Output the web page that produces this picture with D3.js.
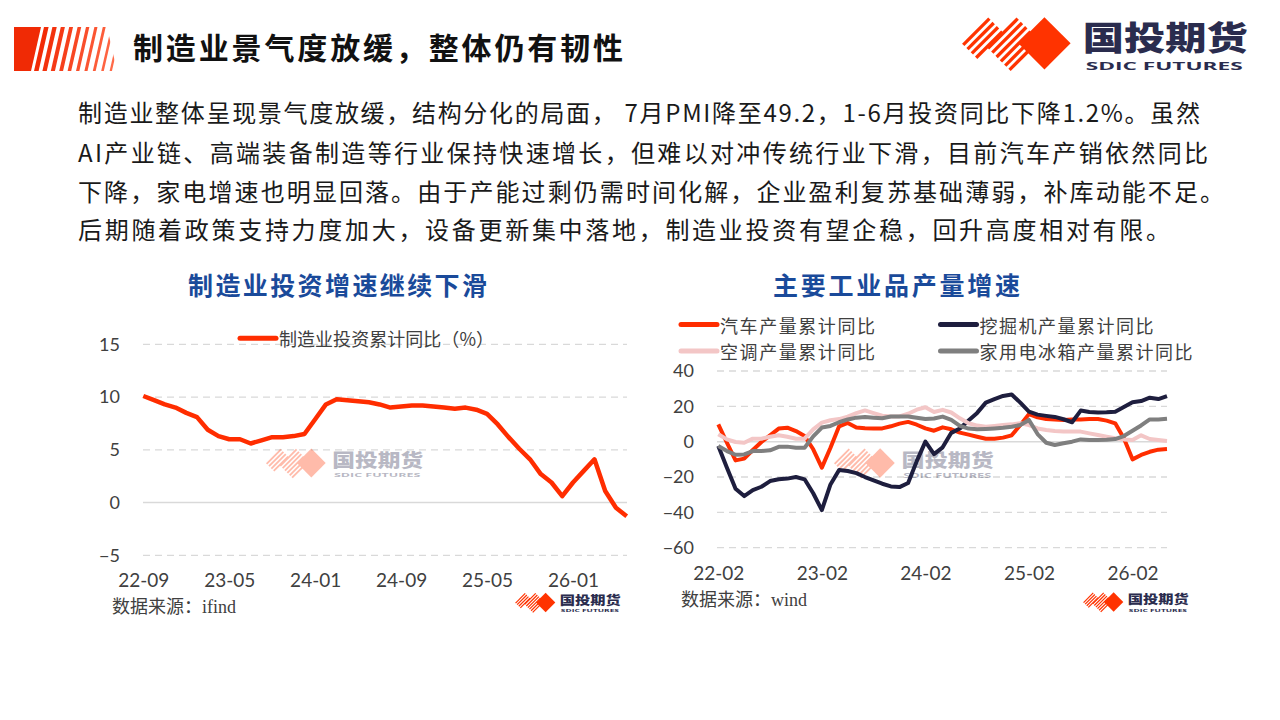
<!DOCTYPE html>
<html>
<head>
<meta charset="utf-8">
<script src="https://cdn.jsdelivr.net/npm/d3@7"></script>
<style>
body { margin: 0; background: #fff; }
svg { display: block; }
</style>
</head>
<body>
<svg id="slide" width="1280" height="720"></svg>
<script>
// ---------------- data ----------------
// left chart: 制造业投资累计同比 (%), monthly from 2022-09
var invStart = "2022-09";
var invValues = [10.1, 9.7, 9.3, 9.0, 8.5, 8.1, 6.9, 6.3, 6.0, 6.0,
	5.6, 5.9, 6.2, 6.2, 6.3, 6.5, 7.9, 9.3, 9.8, 9.7,
	9.6, 9.5, 9.3, 9.0, 9.1, 9.2, 9.2, 9.1, 9.0, 8.9,
	9.0, 8.8, 8.4, 7.4, 6.2, 5.1, 4.1, 2.7, 1.9, 0.6,
	1.9, 3.0, 4.1, 1.1, -0.5, -1.3];
var invTicks = ["22-09", "23-05", "24-01", "24-09", "25-05", "26-01"];
var invYTicks = [-5, 0, 5, 10, 15];

// right chart: 产量累计同比, monthly from 2022-02
var prodStart = "2022-02";
var autoValues = [9.8, -0.6, -10.6, -9.6, -4.7, -0.2, 3.6, 7.4, 7.9, 6.0,
	3.2, -4.3, -14.7, -3.4, 8.7, 10.6, 8.0, 7.6, 7.4, 7.5,
	8.7, 10.2, 11.2, 9.6, 7.5, 6.2, 8.1, 7.0, 5.1, 4.0,
	2.8, 1.7, 1.7, 2.3, 3.6, 9.4, 15.6, 13.8, 12.8, 12.6,
	12.3, 12.6, 12.6, 12.8, 12.8, 11.9, 10.4, 1.9, -10.0, -7.5,
	-5.7, -4.5, -4.2];
var excavatorValues = [-2.5, -14.7, -26.6, -30.8, -27.4, -25.5, -22.3, -21.3, -20.9, -20.0,
	-21.3, -29.2, -38.7, -24.2, -16.0, -16.6, -17.8, -20.0, -21.9, -23.8,
	-25.3, -25.7, -23.4, -11.0, 0.0, -7.0, -3.2, 5.0, 7.5, 12.0,
	16.3, 22.1, 24.1, 25.9, 26.7, 22.1, 17.0, 15.3, 14.6, 14.0,
	12.7, 11.0, 17.6, 16.8, 16.5, 16.6, 17.0, 19.6, 22.3, 23.0,
	24.9, 24.1, 25.8];
var acValues = [4.2, 1.3, -0.2, -0.6, 1.7, 1.7, 2.8, 3.6, 2.8, 1.7,
	1.7, 7.0, 10.8, 12.1, 12.8, 14.2, 16.2, 17.7, 16.2, 14.7,
	14.3, 14.3, 15.8, 18.1, 19.5, 16.8, 18.0, 16.5, 13.2, 10.4,
	9.1, 8.5, 8.9, 9.4, 9.8, 10.4, 9.4, 7.5, 6.6, 6.0,
	5.7, 5.7, 5.7, 4.7, 3.8, 2.8, 1.9, 1.3, 0.9, 3.6,
	1.5, 0.9, 0.4];
var fridgeValues = [-2.5, -5.3, -7.4, -7.2, -5.3, -5.3, -4.9, -2.9, -2.8, -3.4,
	-3.4, 3.0, 8.0, 8.9, 11.0, 12.6, 13.6, 14.0, 13.6, 13.3,
	14.2, 14.3, 14.3, 13.5, 12.8, 13.1, 14.2, 12.3, 8.9, 7.4,
	7.0, 7.2, 7.5, 7.9, 8.5, 9.4, 12.3, 4.3, -0.6, -1.9,
	-0.9, 0.0, 1.3, 0.9, 0.9, 1.1, 1.5, 3.2, 6.2, 9.2,
	12.6, 12.6, 13.0];
var prodNames = ["汽车产量累计同比", "挖掘机产量累计同比", "空调产量累计同比", "家用电冰箱产量累计同比"];
var prodTicks = ["22-02", "23-02", "24-02", "25-02", "26-02"];
var prodYTicks = [-60, -40, -20, 0, 20, 40];

var paragraph = [
	"制造业整体呈现景气度放缓，结构分化的局面， 7月PMI降至49.2，1-6月投资同比下降1.2%。虽然",
	"AI产业链、高端装备制造等行业保持快速增长，但难以对冲传统行业下滑，目前汽车产销依然同比",
	"下降，家电增速也明显回落。由于产能过剩仍需时间化解，企业盈利复苏基础薄弱，补库动能不足。",
	"后期随着政策支持力度加大，设备更新集中落地，制造业投资有望企稳，回升高度相对有限。"
];

// ---------------- helpers ----------------
var CJK = "'Noto Sans CJK SC', 'Noto Sans', sans-serif";
var NUM = "Lato, 'Noto Sans', sans-serif";
var SRC = "'Liberation Serif', 'Noto Sans CJK SC', serif";
var RED = "#ff2d00";
var LOGO_RED = "#ff3300";
var LOGO_NAVY = "#2a2c4e";

var parseMonth = d3.timeParse("%Y-%m");
var fmtMonth = d3.timeFormat("%y-%m");
function monthLabels(start, n) {
	var d0 = parseMonth(start);
	return d3.range(n).map(function(i) { return fmtMonth(d3.timeMonth.offset(d0, i)); });
}

var svg = d3.select("#slide");
svg.append("rect").attr("width", 1280).attr("height", 720).attr("fill", "#fff");
var defs = svg.append("defs");

// company mark + name, drawn in a frame rotated by -45deg
function drawLogo(parent, tx, ty, s, op) {
	var g = parent.append("g")
		.attr("transform", "translate(" + tx + "," + ty + ") scale(" + s + ")")
		.attr("opacity", op);
	var m = g.append("g").attr("transform", "rotate(-45)");
	// hatched left part
	for (var k = 0; k < 4; k++)
		m.append("rect").attr("x", 0).attr("y", 0.5 + k * 6.1).attr("width", 37).attr("height", 3.3).attr("fill", LOGO_RED);
	for (var k = 0; k < 6; k++)
		m.append("rect").attr("x", 15).attr("y", 20.5 + k * 6.1).attr("width", 42).attr("height", 3.3).attr("fill", LOGO_RED);
	// solid diamond
	m.append("rect").attr("x", 40).attr("y", 40).attr("width", 37).attr("height", 37).attr("fill", LOGO_RED);
	g.append("text")
		.attr("x", 121).attr("y", -7)
		.attr("dominant-baseline", "central")
		.attr("textLength", 165).attr("lengthAdjust", "spacingAndGlyphs")
		.style("font-family", CJK).style("font-weight", 900).style("font-size", "33px")
		.attr("fill", LOGO_NAVY)
		.text("国投期货");
	g.append("text")
		.attr("x", 124).attr("y", 22)
		.attr("dominant-baseline", "central")
		.attr("textLength", 157).attr("lengthAdjust", "spacingAndGlyphs")
		.style("font-family", "'Open Sans', 'DejaVu Sans', sans-serif").style("font-weight", 700).style("font-size", "11px")
		.attr("fill", LOGO_NAVY)
		.text("SDIC FUTURES");
}

// ---------------- header ----------------
defs.append("clipPath").attr("id", "hbClip")
	.append("polygon").attr("points", "14,27 107,27 117,71 14,71");
var hb = svg.append("g").attr("clip-path", "url(#hbClip)");
hb.append("polygon").attr("points", "14,27 41,27 31,71 14,71").attr("fill", "#f02a05");
var stripeColor = d3.interpolateRgb("#f22b06", "#ff6a48");
for (var k = 0; k < 10; k++) {
	var b = 34 + k * 8.4, w = 4.6 - k * 0.25;
	hb.append("polygon")
		.attr("points", [[b, 71], [b + w, 71], [b + w + 10, 27], [b + 10, 27]].join(" "))
		.attr("fill", stripeColor(k / 9));
}

svg.append("text")
	.attr("x", 133).attr("y", 46)
	.attr("dominant-baseline", "central")
	.attr("textLength", 490).attr("lengthAdjust", "spacing")
	.style("font-family", CJK).style("font-weight", 700).style("font-size", "30px")
	.attr("fill", "#111")
	.text("制造业景气度放缓，整体仍有韧性");

drawLogo(svg, 961.7, 43.3, 1, 1);

// paragraph
var paraY = [111, 151, 190, 228];
var paraW = [1122, 1130, 1146, 1092];
svg.selectAll("text.para").data(paragraph).join("text")
	.attr("class", "para")
	.attr("x", 78)
	.attr("y", function(d, i) { return paraY[i]; })
	.attr("dominant-baseline", "central")
	.attr("textLength", function(d, i) { return paraW[i]; })
	.attr("lengthAdjust", "spacing")
	.style("font-family", CJK).style("font-size", "24px")
	.attr("fill", "#1a1a1a")
	.text(function(d) { return d; });

// ---------------- shared chart bits ----------------
function gridLines(g, y, ticks, x0, x1) {
	g.selectAll("line.grid").data(ticks).join("line")
		.attr("class", "grid")
		.attr("x1", x0).attr("x2", x1)
		.attr("y1", function(d) { return y(d); })
		.attr("y2", function(d) { return y(d); })
		.attr("stroke", "#d9d9d9")
		.attr("stroke-width", function(d) { return d === 0 ? 1.6 : 1.3; })
		.attr("stroke-dasharray", function(d) { return d === 0 ? null : "7,5"; });
}
function styleAxis(sel, size) {
	sel.select(".domain").remove();
	sel.selectAll("text")
		.style("font-family", NUM).style("font-size", size + "px")
		.attr("fill", "#404040");
}
function chartTitle(x, len, t) {
	svg.append("text")
		.attr("x", x).attr("y", 284)
		.attr("dominant-baseline", "central")
		.attr("textLength", len).attr("lengthAdjust", "spacing")
		.style("font-family", CJK).style("font-weight", 700).style("font-size", "25px")
		.attr("fill", "#1a4a9a")
		.text(t);
}
function legendItem(g, x, y, color, label, len, size) {
	g.append("line")
		.attr("x1", x).attr("x2", x + 36).attr("y1", y).attr("y2", y)
		.attr("stroke", color).attr("stroke-width", 5).attr("stroke-linecap", "round");
	g.append("text")
		.attr("x", x + 39).attr("y", y)
		.attr("dominant-baseline", "central")
		.attr("textLength", len).attr("lengthAdjust", "spacing")
		.style("font-family", CJK).style("font-size", size + "px")
		.attr("fill", "#404040")
		.text(label);
}
function sourceNote(x, y, t) {
	svg.append("text")
		.attr("x", x).attr("y", y)
		.attr("dominant-baseline", "central")
		.style("font-family", SRC).style("font-size", "18px")
		.attr("fill", "#404040")
		.text(t);
}

// ---------------- left chart ----------------
var invCats = monthLabels(invStart, invValues.length);
var xL = d3.scalePoint().domain(invCats).range([143.3, 626.7]);
var yL = d3.scaleLinear().domain([-5, 15]).range([555.3, 344.3]);
var left = svg.append("g");

chartTitle(188, 299, "制造业投资增速继续下滑");
gridLines(left, yL, invYTicks, 143, 627);
drawLogo(left, 265.8, 463, 0.55, 0.33);

left.append("g").attr("transform", "translate(120,0)")
	.call(d3.axisLeft(yL).tickValues(invYTicks).tickSize(0).tickPadding(0))
	.call(styleAxis, 18);
left.append("g").attr("transform", "translate(0,580)")
	.call(d3.axisBottom(xL).tickValues(invTicks).tickSize(0).tickPadding(0))
	.call(styleAxis, 19)
	.selectAll("text").attr("y", 0).attr("dy", "0.35em");

left.append("path")
	.datum(invValues)
	.attr("fill", "none")
	.attr("stroke", RED)
	.attr("stroke-width", 4.5)
	.attr("stroke-linejoin", "round")
	.attr("d", d3.line().x(function(d, i) { return xL(invCats[i]); }).y(function(d) { return yL(d); }));

legendItem(left, 240, 338.3, RED, "制造业投资累计同比（%）", 215, 18);
sourceNote(112, 607, "数据来源：ifind");
drawLogo(left, 515, 602.5, 0.37, 1);

// ---------------- right chart ----------------
var prodCats = monthLabels(prodStart, autoValues.length);
var xR = d3.scalePoint().domain(prodCats).range([718.3, 1167]);
var yR = d3.scaleLinear().domain([-60, 40]).range([547.7, 371]);
var right = svg.append("g");

chartTitle(773, 247, "主要工业品产量增速");
gridLines(right, yR, prodYTicks, 717, 1167);
drawLogo(right, 833.8, 463, 0.56, 0.33);

right.append("g").attr("transform", "translate(694,0)")
	.call(d3.axisLeft(yR).tickValues(prodYTicks).tickSize(0).tickPadding(0))
	.call(styleAxis, 18);
right.append("g").attr("transform", "translate(0,573)")
	.call(d3.axisBottom(xR).tickValues(prodTicks).tickSize(0).tickPadding(0))
	.call(styleAxis, 19)
	.selectAll("text").attr("y", 0).attr("dy", "0.35em");

var prodSeries = [
	{ name: prodNames[0], values: autoValues, color: RED },
	{ name: prodNames[1], values: excavatorValues, color: "#1e1e3e" },
	{ name: prodNames[2], values: acValues, color: "#f3c6c6" },
	{ name: prodNames[3], values: fridgeValues, color: "#7f7f7f" }
];
var lineR = d3.line().x(function(d, i) { return xR(prodCats[i]); }).y(function(d) { return yR(d); });
right.selectAll("path.series").data(prodSeries).join("path")
	.attr("class", "series")
	.attr("fill", "none")
	.attr("stroke", function(d) { return d.color; })
	.attr("stroke-width", 4)
	.attr("stroke-linejoin", "round")
	.attr("d", function(d) { return lineR(d.values); });

// two legend rows, kept just far enough apart that the text boxes do not touch
legendItem(right, 681, 324.5, prodSeries[0].color, prodSeries[0].name, 155, 18);
legendItem(right, 940.5, 324.5, prodSeries[1].color, prodSeries[1].name, 174, 18);
legendItem(right, 681, 351, prodSeries[2].color, prodSeries[2].name, 155, 18);
legendItem(right, 940.5, 351, prodSeries[3].color, prodSeries[3].name, 213, 18);

sourceNote(681, 600, "数据来源：wind");
drawLogo(right, 1083, 602, 0.37, 1);
</script>
</body>
</html>
